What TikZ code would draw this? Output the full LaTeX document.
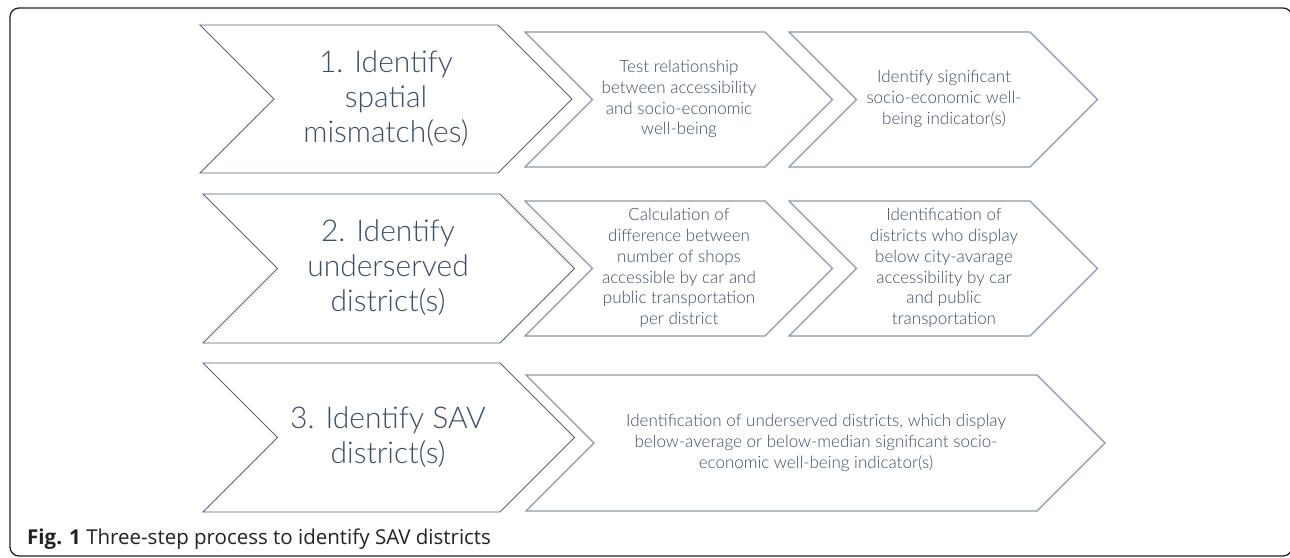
\documentclass[tikz,border=0pt]{standalone}
\usepackage{fontspec}
\setmainfont{Open Sans}
\newfontfamily\diafont{Lato Light}
\newfontfamily\capfont{Open Sans}
\definecolor{slate}{HTML}{3E4D63}
\definecolor{bigline}{HTML}{56647A}
\definecolor{smallline}{HTML}{8C97A8}
\definecolor{framecol}{HTML}{222222}

% chevron outline: style, x of left edge, x of right corner, top y, bottom y
\newcommand{\chevron}[5]{%
  \pgfmathsetmacro{\chd}{(#5-#4)/2}%
  \pgfmathsetmacro{\chm}{(#4+#5)/2}%
  \draw[#1] (#2,#4) -- (#3,#4) -- (#3+\chd,\chm) -- (#3,#5) -- (#2,#5)
    -- (#2+\chd,\chm) -- cycle;%
}

\tikzset{
  bigchev/.style={draw=bigline, line width=0.9pt, line join=miter},
  smallchev/.style={draw=smallline, line width=1.1pt, line join=miter},
  bigtxt/.style={text=slate, align=center, inner sep=0pt,
    font=\diafont\fontsize{30}{35}\selectfont},
  smalltxt/.style={text=slate, align=center, inner sep=0pt,
    font=\diafont\fontsize{17}{20.8}\selectfont},
  captxt/.style={anchor=base west, inner sep=0pt, text=framecol,
    font=\capfont\fontsize{20.5}{24}\selectfont},
}

\begin{document}
\begin{tikzpicture}[x=1pt, y=-1pt]
  \useasboundingbox (0,0) rectangle (1290,557);
  \fill[white] (0,0) rectangle (1290,557);

  % figure frame
  \draw[framecol, line width=1.3pt, rounded corners=9pt] (10,8) rectangle (1292,556);

  % row 1
  \chevron{bigchev}{200}{498}{25}{173}
  \chevron{smallchev}{525}{765}{32}{167}
  \chevron{smallchev}{789}{1030}{32}{167}
  \node[bigtxt] (s1) at (386,99) {1. Identify\\spatial\\mismatch(es)};
  \node[smalltxt] (a1) at (679,99) {Test relationship\\between accessibility\\and socio-economic\\well-being};
  \node[smalltxt] (b1) at (944,99) {Identify significant\\socio-economic well-\\being indicator(s)};

  % row 2
  \chevron{bigchev}{203}{500}{194}{343}
  \chevron{smallchev}{525}{765}{201}{336}
  \chevron{smallchev}{789}{1030}{201}{336}
  \node[bigtxt] (s2) at (388,268) {2. Identify\\underserved\\district(s)};
  \node[smalltxt] (a2) at (679,268) {Calculation of\\difference between\\number of shops\\accessible by car and\\public transportation\\per district};
  \node[smalltxt] (b2) at (944,268) {Identification of\\districts who display\\below city-avarage\\accessibility by car\\and public\\transportation};

  % row 3
  \chevron{bigchev}{203}{500}{363}{512}
  \chevron{smallchev}{526}{1037}{375}{511}
  \node[bigtxt] (s3) at (388,437) {3. Identify SAV\\district(s)};
  \node[smalltxt] (a3) at (816,443) {Identification of underserved districts, which display\\below-average or below-median significant socio-\\economic well-being indicator(s)};

  % caption
  \node[captxt] (cap) at (27,544) {\textbf{Fig. 1} Three-step process to identify SAV districts};
\end{tikzpicture}
\end{document}
